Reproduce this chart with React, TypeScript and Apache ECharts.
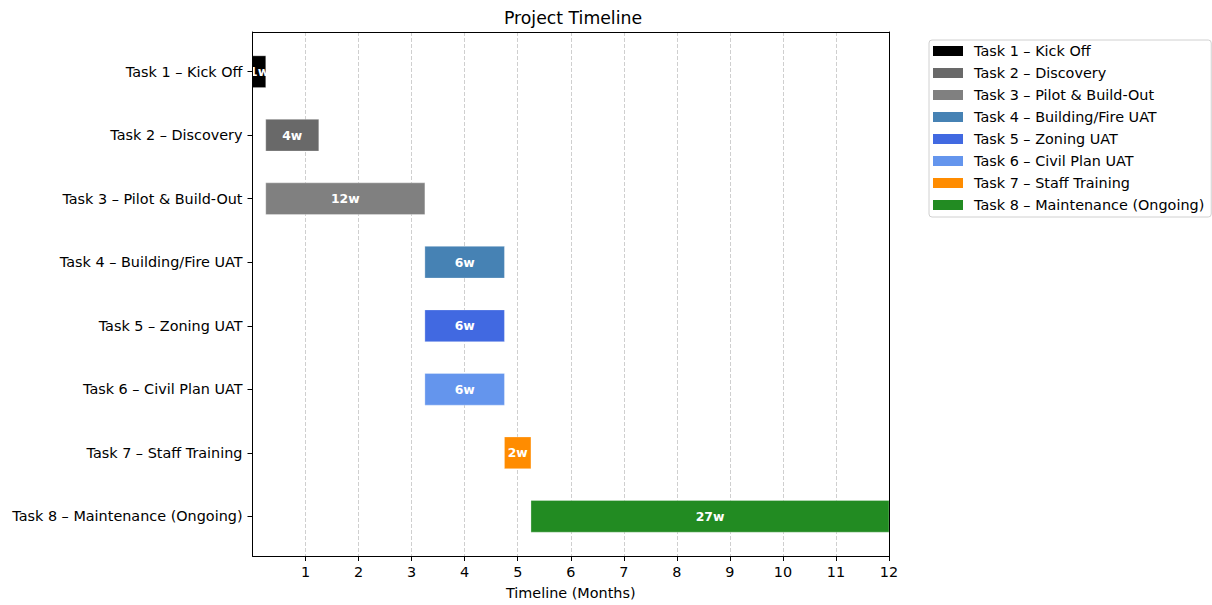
import React, { useEffect, useRef } from "react";
import * as echarts from "echarts";

const tasks = [
  "Task 1 – Kick Off",
  "Task 2 – Discovery",
  "Task 3 – Pilot & Build-Out",
  "Task 4 – Building/Fire UAT",
  "Task 5 – Zoning UAT",
  "Task 6 – Civil Plan UAT",
  "Task 7 – Staff Training",
  "Task 8 – Maintenance (Ongoing)",
];
const startMonths = [0, 0.25, 0.25, 3.25, 3.25, 3.25, 4.75, 5.25];
const durationWeeks = [1, 4, 12, 6, 6, 6, 2, 27];
const colors = [
  "#000000",
  "#696969",
  "#808080",
  "#4682B4",
  "#4169E1",
  "#6495ED",
  "#FF8C00",
  "#228B22",
];
const monthTicks = [1, 2, 3, 4, 5, 6, 7, 8, 9, 10, 11, 12];

const FONT = "DejaVu Sans";
const FS = 14.4;

export default function App() {
  const ref = useRef<HTMLDivElement>(null);
  useEffect(() => {
    if (!ref.current) return;
    const chart = echarts.init(ref.current, null, { renderer: "svg" });
    const series = tasks.map((name, i) => ({
      name,
      type: "custom" as const,
      itemStyle: { color: colors[i] },
      encode: { x: [0, 1], y: 2 },
      data: [[startMonths[i], startMonths[i] + durationWeeks[i] / 4, i, durationWeeks[i]]],
      renderItem: (params: any, api: any) => {
        const s = api.coord([api.value(0), api.value(2)]);
        const e = api.coord([api.value(1), api.value(2)]);
        const h = api.size([0, 0.5])[1];
        return {
          type: "group",
          children: [
            {
              type: "rect",
              shape: { x: s[0], y: s[1] - h / 2, width: e[0] - s[0], height: h },
              style: { fill: colors[i], stroke: "rgba(255,255,255,0.5)", lineWidth: 0.6 },
            },
            {
              type: "text",
              x: (s[0] + e[0]) / 2,
              y: s[1],
              style: {
                text: api.value(3) + "w",
                fill: "#ffffff",
                fontSize: 12.4,
                fontWeight: "bold",
                fontFamily: FONT,
                align: "center",
                verticalAlign: "middle",
              },
            },
          ],
        };
      },
    }));
    const frameAxis = {
      axisLine: { show: true, onZero: false, lineStyle: { color: "#000", width: 1 } },
      axisTick: { show: false },
      axisLabel: { show: false },
      splitLine: { show: false },
      z: 5,
    };
    chart.setOption({
      animation: false,
      backgroundColor: "#ffffff",
      title: {
        text: "Project Timeline",
        left: 568,
        textAlign: "center",
        top: 4,
        textStyle: { fontFamily: FONT, fontSize: 17.3, fontWeight: "normal", color: "#000" },
      },
      legend: {
        orient: "vertical",
        left: 929,
        top: 40,
        padding: [4, 7, 5, 4],
        borderColor: "#d0d0d0",
        borderWidth: 1,
        borderRadius: 3,
        itemWidth: 30,
        itemHeight: 10,
        itemGap: 8,
        icon: "rect",
        data: tasks,
        textStyle: {
          fontFamily: FONT,
          fontSize: FS,
          lineHeight: 14,
          color: "#000",
          padding: [0, 0, 0, 6],
        },
      },
      grid: {
        left: 252.5,
        right: 323,
        top: 32,
        bottom: 48.5,
        show: false,
        containLabel: false,
      },
      xAxis: [
        {
          type: "value",
          min: 0,
          max: 12,
          interval: 1,
          name: "Timeline (Months)",
          nameLocation: "middle",
          nameGap: 30,
          nameTextStyle: { fontFamily: FONT, fontSize: FS, color: "#000" },
          axisLine: { show: true, onZero: false, lineStyle: { color: "#000", width: 1 } },
          axisTick: { show: true, length: 5, customValues: monthTicks, lineStyle: { color: "#000" } },
          axisLabel: {
            customValues: monthTicks,
            margin: 9,
            fontFamily: FONT,
            fontSize: FS,
            color: "#000",
          },
          splitLine: {
            show: true,
            lineStyle: { color: "#cfcfcf", type: [4, 2], width: 1 },
          },
          z: 1,
        },
        { type: "value", min: 0, max: 12, position: "top", ...frameAxis },
      ],
      yAxis: [
        {
          type: "value",
          min: -0.625,
          max: 7.625,
          inverse: true,
          axisLine: { show: true, onZero: false, lineStyle: { color: "#000", width: 1 } },
          axisTick: {
            show: true,
            length: 5,
            customValues: tasks.map((_, i) => i),
            lineStyle: { color: "#000" },
          },
          axisLabel: {
            customValues: tasks.map((_, i) => i),
            formatter: (v: number) => tasks[Math.round(v)] ?? "",
            margin: 10,
            fontFamily: FONT,
            fontSize: FS,
            color: "#000",
          },
          splitLine: { show: false },
          z: 5,
        },
        { type: "value", min: -0.625, max: 7.625, inverse: true, position: "right", ...frameAxis },
      ],
      series,
    });
    return () => chart.dispose();
  }, []);
  return (
    <div
      ref={ref}
      style={{ position: "fixed", left: 0, top: 0, width: 1212, height: 605 }}
    />
  );
}
